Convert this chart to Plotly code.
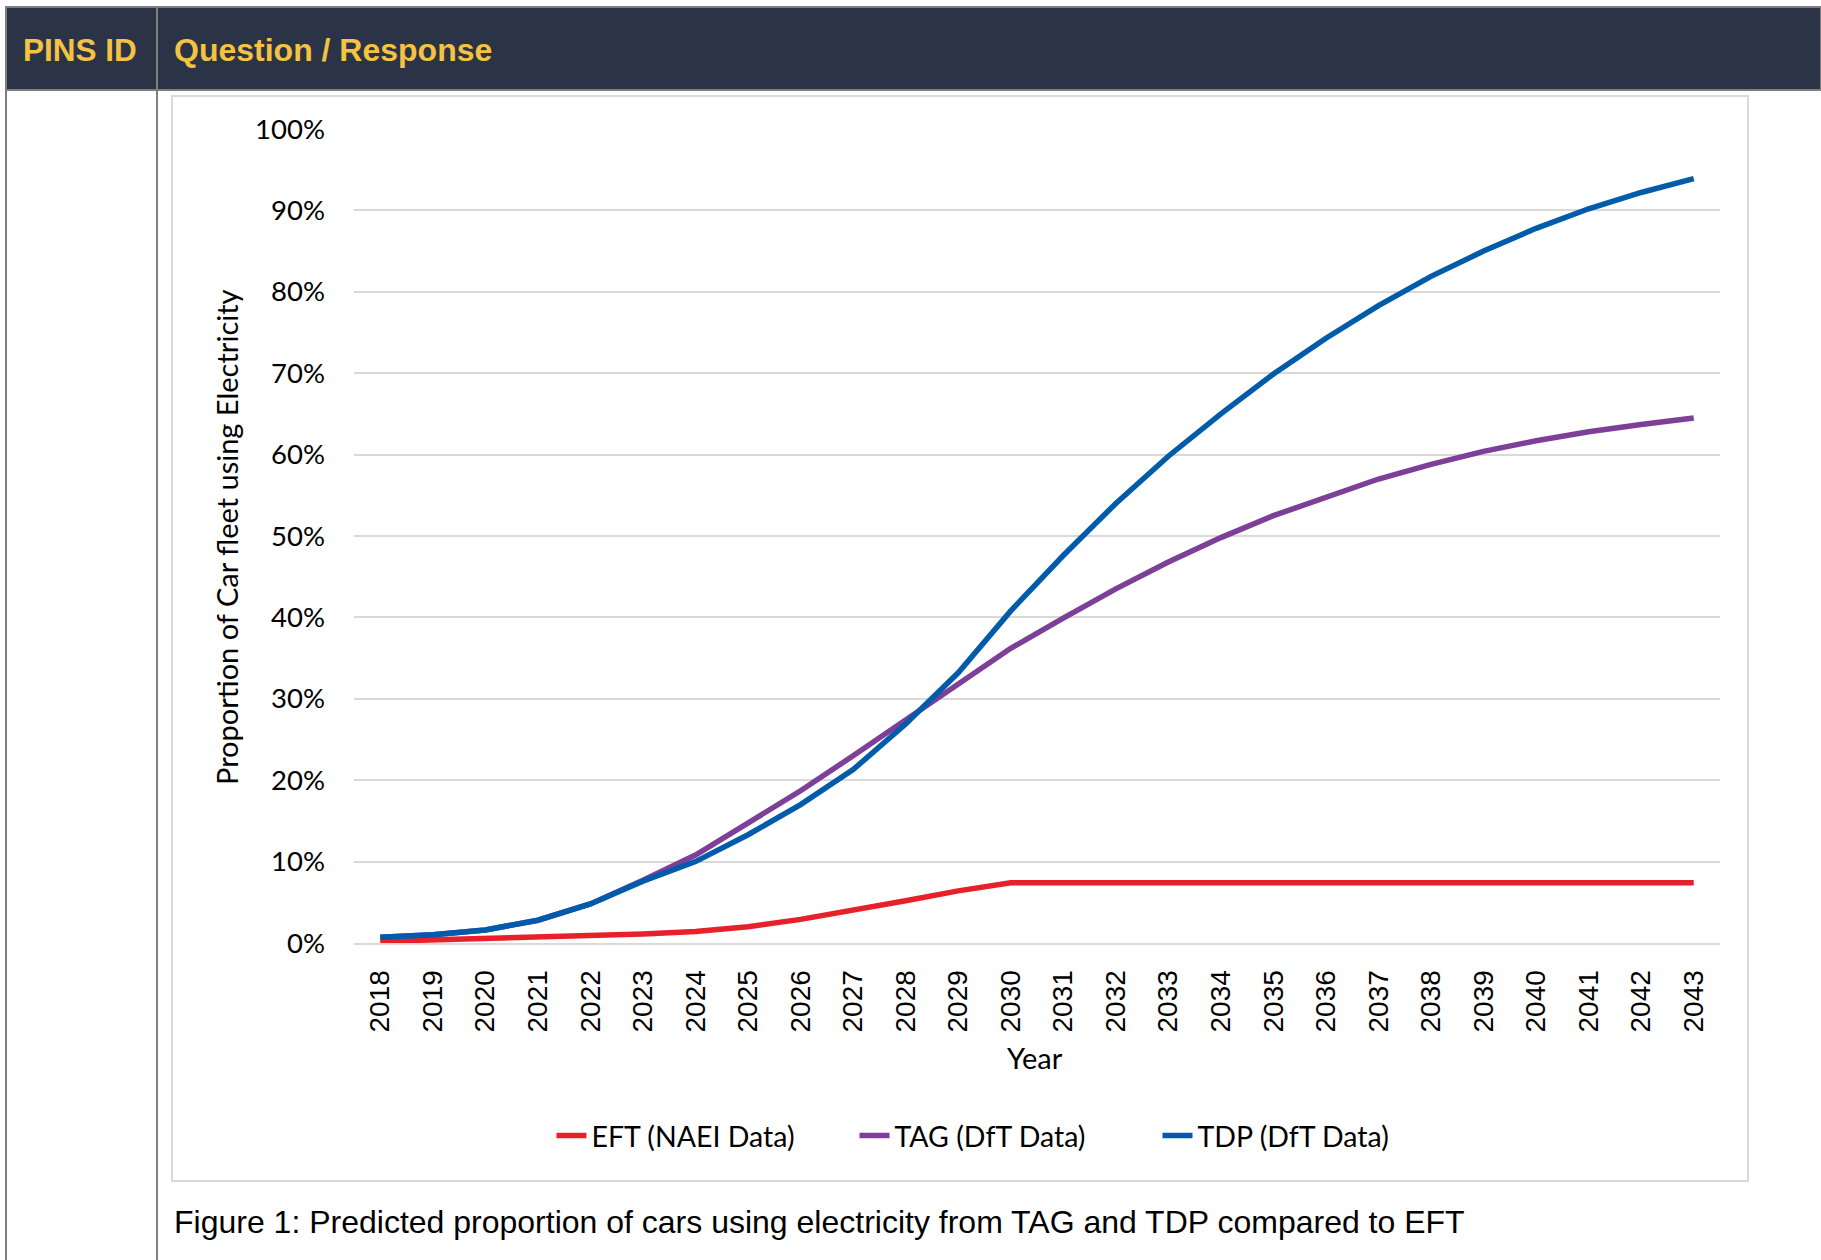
import plotly.graph_objects as go

years = [str(y) for y in range(2018, 2044)]
eft = [0.2, 0.35, 0.5, 0.65, 0.85, 1.1, 1.4, 2.0, 2.9, 4.0, 5.2, 6.4, 7.4,
       7.4, 7.4, 7.4, 7.4, 7.4, 7.4, 7.4, 7.4, 7.4, 7.4, 7.4, 7.4, 7.4]
tag = [0.7, 1.0, 1.6, 2.8, 4.8, 7.7, 10.8, 14.7, 18.7, 23.0, 27.4, 32.0, 36.2,
       39.9, 43.5, 46.8, 49.8, 52.5, 54.8, 57.0, 58.8, 60.4, 61.7, 62.8, 63.7, 64.5]
tdp = [0.7, 1.0, 1.6, 2.8, 4.8, 7.6, 10.0, 13.3, 17.0, 21.3, 26.9, 33.2, 40.8,
       47.6, 54.0, 59.8, 65.0, 69.9, 74.3, 78.3, 81.9, 85.0, 87.8, 90.2, 92.2, 93.9]
series_names = ["EFT (NAEI Data)", "TAG (DfT Data)", "TDP (DfT Data)"]
series_colors = ["#e8202a", "#7d3f98", "#005bab"]

W, H = 1821, 1260
def px(x): return x / W
def py(y): return 1 - y / H

fig = go.Figure()
for name, vals, col in zip(series_names, [eft, tag, tdp], series_colors):
    fig.add_trace(go.Scatter(x=years, y=[v / 100 for v in vals], mode="lines", name=name,
                             line=dict(color=col, width=5.5)))

calibri = "Lato, 'Open Sans', sans-serif"
arial = "'Liberation Sans', Arial, sans-serif"
grid = "#d9d9d9"
hdr_border = "#7f7f7f"

shapes = [
    dict(type="rect", xref="paper", yref="paper", x0=px(6), x1=px(1821), y0=py(90), y1=py(7),
         fillcolor="#2b3447", line=dict(color=hdr_border, width=2), layer="below"),
    dict(type="line", xref="paper", yref="paper", x0=px(6), x1=px(6), y0=py(1260), y1=py(7),
         line=dict(color=hdr_border, width=2)),
    dict(type="line", xref="paper", yref="paper", x0=px(157), x1=px(157), y0=py(1260), y1=py(7),
         line=dict(color=hdr_border, width=2)),
    dict(type="rect", xref="paper", yref="paper", x0=px(172), x1=px(1748), y0=py(1181), y1=py(96),
         fillcolor="rgba(0,0,0,0)", line=dict(color=grid, width=2), layer="below"),
]

annotations = [
    dict(text="<b>PINS ID</b>", x=px(21), y=py(50), xref="paper", yref="paper", xanchor="left",
         yanchor="middle", showarrow=False, font=dict(family=arial, size=31.5, color="#f5c242")),
    dict(text="<b>Question / Response</b>", x=px(172), y=py(50), xref="paper", yref="paper",
         xanchor="left", yanchor="middle", showarrow=False,
         font=dict(family=arial, size=32, color="#f5c242")),
    dict(text="Proportion of Car fleet using Electricity", x=px(226), y=py(537), xref="paper",
         yref="paper", xanchor="center", yanchor="middle", textangle=-90, showarrow=False,
         font=dict(family=calibri, size=29, color="#000000")),
    dict(text="Year", x=px(1035), y=py(1057), xref="paper", yref="paper", xanchor="center",
         yanchor="middle", showarrow=False, font=dict(family=calibri, size=29, color="#000000")),
    dict(text="Figure 1: Predicted proportion of cars using electricity from TAG and TDP compared to EFT",
         x=px(172), y=py(1222), xref="paper", yref="paper", xanchor="left", yanchor="middle",
         showarrow=False, font=dict(family=arial, size=32, color="#000000")),
]

fig.update_layout(
    template="none",
    width=W, height=H, autosize=False,
    margin=dict(l=0, r=0, t=0, b=0, pad=0),
    paper_bgcolor="white", plot_bgcolor="white",
    shapes=shapes, annotations=annotations,
    showlegend=True,
    legend=dict(orientation="h", x=px(1006), y=py(1136), xanchor="center", yanchor="middle",
                font=dict(family=calibri, size=28.5, color="#000000"),
                entrywidth=258, bgcolor="rgba(0,0,0,0)"),
    xaxis=dict(domain=[px(354), px(1720)], type="category", range=[-0.5, 25.5],
               tickangle=-90, showgrid=False, showline=True, linecolor=grid, linewidth=2,
               ticks="", automargin=False, ticklabelstandoff=14,
               tickfont=dict(family=arial, size=28, color="#000000"), zeroline=False),
    yaxis=dict(domain=[py(943), py(129)], range=[0, 1.0], dtick=0.1, tickformat=".0%",
               showgrid=True, gridcolor=grid, gridwidth=2, zeroline=False, showline=False,
               ticks="", automargin=False, ticklabelstandoff=28,
               tickfont=dict(family=calibri, size=27.5, color="#000000")),
)

fig.write_html("out.html", config={"displayModeBar": False},
               post_script="document.body.style.margin='0';")
